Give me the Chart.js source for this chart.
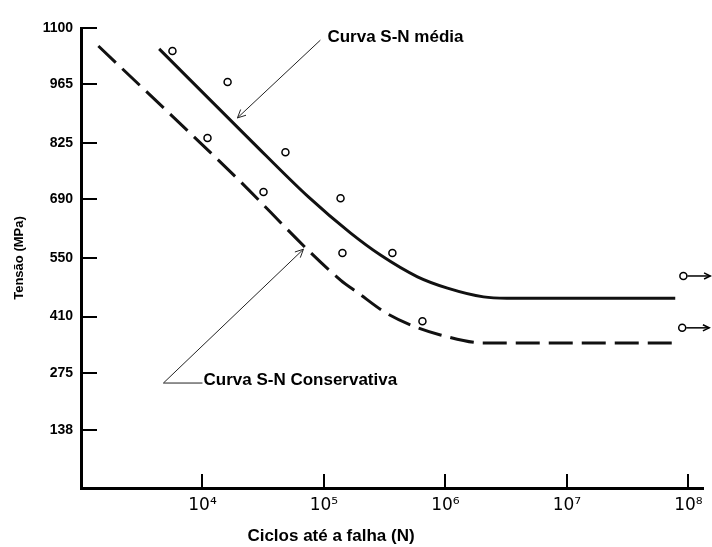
<!DOCTYPE html>
<html>
<head>
<meta charset="utf-8">
<script src="https://cdn.jsdelivr.net/npm/chart.js@4.4.1/dist/chart.umd.min.js"></script>
<style>
  html, body { margin: 0; padding: 0; background: #fff; }
  #wrap { position: relative; width: 712px; height: 547px; }
</style>
</head>
<body>
<div id="wrap"><canvas id="sn_chart"></canvas></div>
<script>
// ciclos ate a falha (N) e tensao (MPa)
const media_n = [4400, 24800, 74500, 165000, 292000, 589000, 1040000, 2060000, 3200000, 78000000];
const media_s = [1050, 832, 696, 610, 557, 505, 478, 457, 454, 454];
const conserv_n = [1390, 17000, 137000, 192000, 315000, 546000, 910000, 2060000, 75000000];
const conserv_s = [1057, 756, 497, 466, 421, 387, 366, 347, 347];

const ensaio_n = [5660, 16100, 11000, 48200, 31800, 137000, 142000, 366000, 647000];
const ensaio_s = [1045, 971, 837, 803, 708, 693, 562, 562, 399];
// corpos de prova que nao romperam
const runout_n = [91000000, 89000000];
const runout_s = [507, 383];

const tension_ticks = [138, 275, 410, 550, 690, 825, 965, 1100];
const cycle_ticks = [1e4, 1e5, 1e6, 1e7, 1e8];

// setas de identificacao das curvas (N, MPa)
const media_label = "Curva S-N média";
const media_arrow_n = [93500, 19400];
const media_arrow_s = [1071, 885];
const conserv_label = "Curva S-N Conservativa";
const conserv_arrow_n = [10000, 4770, 67800];
const conserv_arrow_s = [251, 251, 571];

const SUP = { 4: '\u2074', 5: '\u2075', 6: '\u2076', 7: '\u2077', 8: '\u2078' };
const FONT = "'Liberation Sans', Arial, 'DejaVu Sans', sans-serif";

function zip_points(xs, ys) {
  return xs.map((x, i) => ({ x: x, y: ys[i] }));
}

function to_px(chart, n, s) {
  return [chart.scales.x.getPixelForValue(n), chart.scales.y.getPixelForValue(s)];
}

function arrow_head(ctx, x0, y0, x1, y1, size) {
  const ang = Math.atan2(y1 - y0, x1 - x0);
  ctx.beginPath();
  ctx.moveTo(x1 - size * Math.cos(ang - 0.45), y1 - size * Math.sin(ang - 0.45));
  ctx.lineTo(x1, y1);
  ctx.lineTo(x1 - size * Math.cos(ang + 0.45), y1 - size * Math.sin(ang + 0.45));
  ctx.stroke();
}

// marcas dos eixos voltadas para dentro
const inward_ticks = {
  id: 'inward_ticks',
  afterDraw(chart) {
    const ctx = chart.ctx;
    const xs = chart.scales.x, ys = chart.scales.y;
    ctx.save();
    ctx.strokeStyle = '#000';
    ctx.lineWidth = 2;
    ctx.beginPath();
    cycle_ticks.forEach(v => {
      const px = Math.round(xs.getPixelForValue(v));
      ctx.moveTo(px, xs.top);
      ctx.lineTo(px, xs.top - 14);
    });
    tension_ticks.forEach(v => {
      const py = Math.round(ys.getPixelForValue(v));
      ctx.moveTo(ys.right, py);
      ctx.lineTo(ys.right + 16, py);
    });
    ctx.stroke();
    ctx.restore();
  }
};

// textos, setas e titulo do eixo x
const notes = {
  id: 'notes',
  afterDraw(chart) {
    const ctx = chart.ctx;
    ctx.save();
    ctx.strokeStyle = '#222';
    ctx.fillStyle = '#000';
    ctx.lineWidth = 1;

    // curva media
    let a = to_px(chart, media_arrow_n[0], media_arrow_s[0]);
    let b = to_px(chart, media_arrow_n[1], media_arrow_s[1]);
    ctx.beginPath();
    ctx.moveTo(a[0], a[1]);
    ctx.lineTo(b[0], b[1]);
    ctx.stroke();
    arrow_head(ctx, a[0], a[1], b[0], b[1], 9);
    ctx.font = 'bold 17px ' + FONT;
    ctx.textBaseline = 'middle';
    ctx.textAlign = 'left';
    ctx.fillText(media_label, a[0] + 7, a[1] - 3);

    // curva conservativa
    const p = conserv_arrow_n.map((n, i) => to_px(chart, n, conserv_arrow_s[i]));
    ctx.beginPath();
    ctx.moveTo(p[0][0], p[0][1]);
    ctx.lineTo(p[1][0], p[1][1]);
    ctx.lineTo(p[2][0], p[2][1]);
    ctx.stroke();
    arrow_head(ctx, p[1][0], p[1][1], p[2][0], p[2][1], 9);
    ctx.textBaseline = 'alphabetic';
    ctx.fillText(conserv_label, p[0][0] + 1, p[0][1] + 2);

    // ensaios interrompidos sem falha
    ctx.strokeStyle = '#000';
    ctx.lineWidth = 1.5;
    runout_n.forEach((n, i) => {
      const c = to_px(chart, n, runout_s[i]);
      ctx.beginPath();
      ctx.moveTo(c[0] + 4, c[1]);
      ctx.lineTo(c[0] + 27, c[1]);
      ctx.stroke();
      arrow_head(ctx, c[0], c[1], c[0] + 27, c[1], 7);
    });

    // titulo do eixo x
    ctx.font = 'bold 17px ' + FONT;
    ctx.textAlign = 'center';
    ctx.textBaseline = 'middle';
    ctx.fillText('Ciclos até a falha (N)', chart.chartArea.left + 250, 536);
    ctx.restore();
  }
};

function draw_sn_chart() {
  const ctx = document.getElementById('sn_chart').getContext('2d');
  new Chart(ctx, {
    type: 'line',
    data: {
      datasets: [
        {
          label: 'Curva S-N média',
          data: zip_points(media_n, media_s),
          borderColor: '#111',
          borderWidth: 3,
          pointRadius: 0,
          fill: false,
          cubicInterpolationMode: 'monotone'
        },
        {
          label: 'Curva S-N Conservativa',
          data: zip_points(conserv_n, conserv_s),
          borderColor: '#111',
          borderWidth: 3,
          borderDash: [24, 9],
          pointRadius: 0,
          fill: false,
          cubicInterpolationMode: 'monotone'
        },
        {
          label: 'Ensaios',
          data: zip_points(ensaio_n.concat(runout_n), ensaio_s.concat(runout_s)),
          showLine: false,
          pointStyle: 'circle',
          pointRadius: 3.5,
          borderWidth: 1.5,
          borderColor: '#000',
          backgroundColor: '#fff'
        }
      ]
    },
    options: {
      responsive: true,
      maintainAspectRatio: false,
      animation: false,
      layout: { padding: { top: 28, right: 9, left: 0, bottom: 0 } },
      plugins: {
        legend: { display: false },
        tooltip: { enabled: false }
      },
      scales: {
        x: {
          type: 'logarithmic',
          min: 1000,
          max: 132000000,
          grid: { display: false, drawTicks: false },
          border: { display: true, color: '#000', width: 3 },
          afterBuildTicks: (scale) => { scale.ticks = cycle_ticks.map(v => ({ value: v })); },
          afterFit: (scale) => { scale.height = 59; },
          ticks: {
            color: '#000',
            padding: 7,
            maxRotation: 0,
            autoSkip: false,
            font: { family: "'DejaVu Sans', sans-serif", size: 17 },
            callback: (v) => '10' + SUP[Math.round(Math.log10(v))]
          }
        },
        y: {
          type: 'linear',
          min: 0,
          max: 1100,
          grid: { display: false, drawTicks: false },
          border: { display: true, color: '#000', width: 3 },
          afterBuildTicks: (scale) => { scale.ticks = tension_ticks.map(v => ({ value: v })); },
          afterFit: (scale) => { scale.width = 81; },
          ticks: {
            color: '#000',
            padding: 8,
            autoSkip: false,
            font: { family: FONT, size: 14, weight: 'bold' },
            callback: (v) => String(v)
          },
          title: {
            display: true,
            text: 'Tensão (MPa)',
            color: '#000',
            padding: { top: 12, bottom: 0 },
            font: { family: FONT, size: 13, weight: 'bold' }
          }
        }
      }
    },
    plugins: [inward_ticks, notes]
  });
}

draw_sn_chart();
</script>
</body>
</html>
